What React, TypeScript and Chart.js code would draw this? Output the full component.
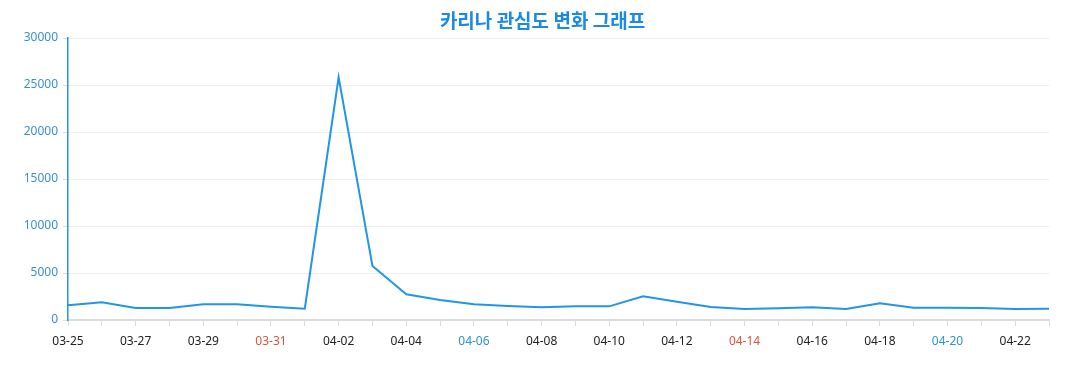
import React, { useEffect, useRef } from "react";
import { Chart, registerables } from "chart.js";

Chart.register(...registerables);

const TITLE = "카리나 관심도 변화 그래프";

const dates = [
  "03-25", "03-26", "03-27", "03-28", "03-29", "03-30", "03-31", "04-01",
  "04-02", "04-03", "04-04", "04-05", "04-06", "04-07", "04-08", "04-09",
  "04-10", "04-11", "04-12", "04-13", "04-14", "04-15", "04-16", "04-17",
  "04-18", "04-19", "04-20", "04-21", "04-22", "04-23",
];

const interest = [
  1570, 1900, 1280, 1280, 1670, 1670, 1420, 1200,
  25820, 5740, 2730, 2130, 1670, 1490, 1350, 1450,
  1450, 2520, 1950, 1380, 1170, 1240, 1350, 1170,
  1770, 1310, 1310, 1280, 1170, 1200,
];

const sundayLabels = ["03-31", "04-07", "04-14", "04-21"];
const saturdayLabels = ["03-30", "04-06", "04-13", "04-20"];

const yTicks = [0, 5000, 10000, 15000, 20000, 25000, 30000];

const FONT = "'Noto Sans', 'Noto Sans CJK KR', sans-serif";
const BLUE = "#2196e6";

const titlePlugin = {
  id: "customTitle",
  afterDraw(chart: any) {
    const ctx = chart.ctx;
    ctx.save();
    ctx.font = "bold 19px 'Noto Sans CJK KR', sans-serif";
    ctx.fillStyle = "#1a8ae6";
    ctx.textAlign = "center";
    ctx.textBaseline = "middle";
    ctx.fillText(TITLE, chart.width / 2 + 4, 21);
    ctx.restore();
  },
};

export default function App() {
  const ref = useRef<HTMLCanvasElement | null>(null);

  useEffect(() => {
    if (!ref.current) return;
    const chart = new Chart(ref.current, {
      type: "line",
      data: {
        labels: dates,
        datasets: [
          {
            label: TITLE,
            data: interest,
            borderColor: BLUE,
            backgroundColor: BLUE,
            borderWidth: 2,
            pointRadius: 0,
            tension: 0,
            fill: false,
          },
        ],
      },
      plugins: [titlePlugin],
      options: {
        animation: false,
        responsive: true,
        maintainAspectRatio: false,
        layout: { padding: { left: 0, right: 28, top: 38, bottom: 0 } },
        plugins: {
          legend: { display: false },
          tooltip: { enabled: false },
          title: { display: false },
        },
        scales: {
          x: {
            type: "category",
            offset: false,
            afterFit: (s: any) => {
              s.height = 70;
            },
            grid: {
              drawOnChartArea: false,
              drawTicks: true,
              tickLength: 6,
              tickColor: "#dcdcdc",
              color: "#dcdcdc",
            },
            border: { display: true, color: "#dcdcdc", width: 2 },
            ticks: {
              autoSkip: false,
              maxRotation: 0,
              minRotation: 0,
              padding: 8,
              font: { family: FONT, size: 12 },
              callback: (_v: any, i: number) => (i % 2 === 0 ? dates[i] : ""),
              color: (ctx: any) => {
                const l = dates[ctx.index];
                if (sundayLabels.includes(l)) return "#e0533a";
                if (saturdayLabels.includes(l)) return "#2a93d5";
                return "#222";
              },
            },
          },
          y: {
            min: yTicks[0],
            max: yTicks[yTicks.length - 1],
            afterFit: (s: any) => {
              s.width = 68;
            },
            afterBuildTicks: (s: any) => {
              s.ticks = yTicks.map((v) => ({ value: v }));
            },
            grid: {
              color: "#eeeeee",
              drawTicks: true,
              tickLength: 5,
              tickColor: "#dcdcdc",
            },
            border: { display: true, color: BLUE, width: 1.5 },
            ticks: {
              padding: 5,
              color: "#3a8fd0",
              font: { family: FONT, size: 12 },
              callback: (v: any) => String(v),
            },
          },
        },
      },
    });
    return () => chart.destroy();
  }, []);

  return (
    <div style={{ position: "fixed", left: 0, top: 0, width: 1077, height: 390 }}>
      <canvas ref={ref} />
    </div>
  );
}
